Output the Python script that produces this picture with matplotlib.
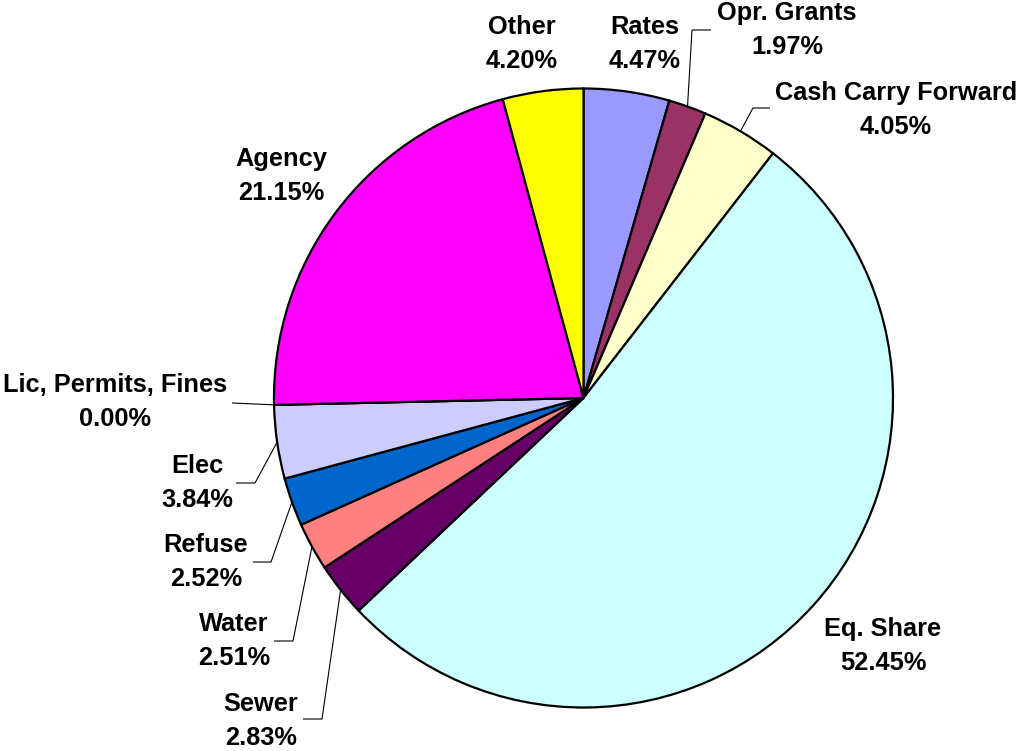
import matplotlib
matplotlib.use("Agg")
import matplotlib.pyplot as plt
import numpy as np

# Revenue shares, clockwise from 12 o'clock
categories = ["Rates", "Opr. Grants", "Cash Carry Forward", "Eq. Share", "Sewer",
              "Water", "Refuse", "Elec", "Lic, Permits, Fines", "Agency", "Other"]
shares = [4.47, 1.97, 4.05, 52.45, 2.83, 2.51, 2.52, 3.84, 0.00, 21.15, 4.20]
colors = ["#9999FF", "#993366", "#FFFFCC", "#CCFFFF", "#660066", "#FF8080",
          "#0066CC", "#CCCCFF", "#000080", "#FF00FF", "#FFFF00"]

W, H = 1019, 751
CX, CY, R = 583.5, 398, 309.5

def to_data(px, py):
    return (px - CX) / R, (CY - py) / R

# label layout in pixel space: text centre, and optional leader (elbow, end)
label_layout = {
    "Rates": ((645, 44), None),
    "Opr. Grants": ((787, 30), ((692, 30), (711, 30))),
    "Cash Carry Forward": ((896, 110), ((753, 108), (770, 108))),
    "Eq. Share": ((883, 646), None),
    "Sewer": ((261, 721), ((322, 719), (303, 719))),
    "Water": ((234, 641), ((293, 641), (274, 641))),
    "Refuse": ((206, 562), ((271, 562), (253, 562))),
    "Elec": ((197, 483), ((255, 483), (236, 483))),
    "Lic, Permits, Fines": ((115, 402), ((232, 403), (232, 403))),
    "Agency": ((281, 176), None),
    "Other": ((522, 44), None),
}

fig = plt.figure(figsize=(W / 100, H / 100), dpi=100)
ax = fig.add_axes([0, 0, 1, 1])

wedges, _ = ax.pie(shares, colors=colors, startangle=90, counterclock=False,
                   radius=1.0, center=(0, 0), frame=True,
                   wedgeprops=dict(edgecolor="black", linewidth=1.6))
ax.set_xlim(-CX / R, (W - CX) / R)
ax.set_ylim(-(H - CY) / R, CY / R)
ax.set_aspect("equal")
ax.axis("off")

for w, name, val in zip(wedges, categories, shares):
    (tx, ty), leader = label_layout[name]
    x, y = to_data(tx, ty)
    ax.text(x, y, f"{name}\n{val:.2f}%", ha="center", va="center",
            multialignment="center", fontsize=18.3, fontweight="bold",
            family="Liberation Sans", linespacing=1.5)
    if leader is not None:
        mid = np.deg2rad((w.theta1 + w.theta2) / 2)
        sx, sy = np.cos(mid), np.sin(mid)
        ex, ey = to_data(*leader[0])
        fx, fy = to_data(*leader[1])
        ax.plot([sx, ex, fx], [sy, ey, fy], color="black", linewidth=0.8,
                solid_capstyle="butt")

fig.savefig("out.png", dpi=100)
